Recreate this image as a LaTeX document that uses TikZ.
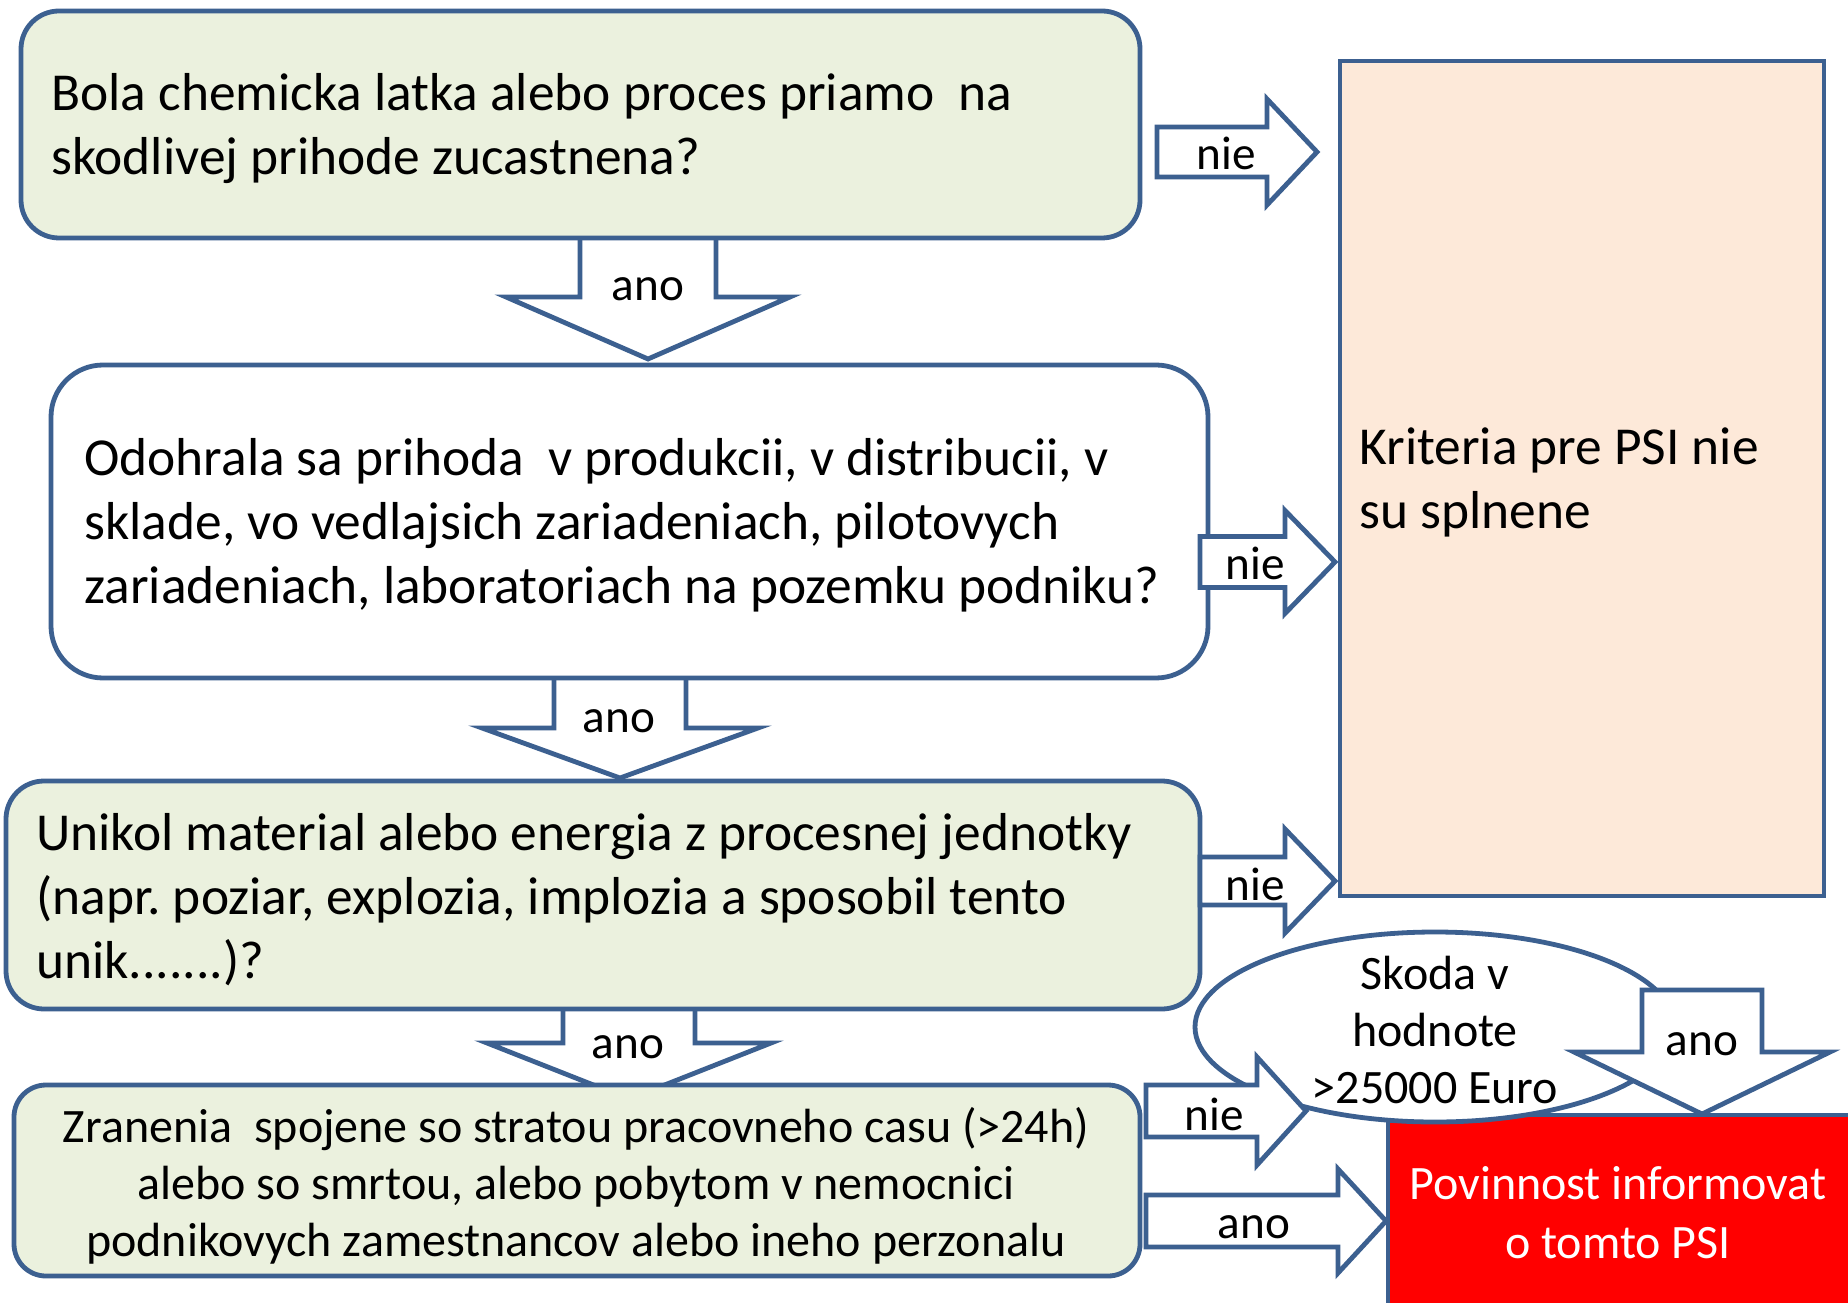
\documentclass[tikz,border=0pt]{standalone}
\usepackage{fontspec}
\setmainfont{Carlito}
\frenchspacing
\usetikzlibrary{shapes.geometric}
\definecolor{bordc}{RGB}{60,96,144}
\definecolor{greenf}{RGB}{235,241,222}
\definecolor{peachf}{RGB}{253,233,217}
\newcommand{\blkright}[6]{\path[blockarrow] ({#1},{#4-#5}) -- ({#2},{#4-#5}) -- ({#2},{#4-#6}) -- ({#3},{#4}) -- ({#2},{#4+#6}) -- ({#2},{#4+#5}) -- ({#1},{#4+#5}) -- cycle;}
\newcommand{\blkdown}[6]{\path[blockarrow] ({#1-#5},{#2}) -- ({#1+#5},{#2}) -- ({#1+#5},{#3}) -- ({#1+#6},{#3}) -- ({#1},{#4}) -- ({#1-#6},{#3}) -- ({#1-#5},{#3}) -- cycle;}
\tikzset{
  bord/.style={draw=bordc, line width=1.2pt},
  qbox/.style={bord, rectangle, inner sep=0pt},
  blockarrow/.style={bord, fill=white, line join=miter},
  lbl/.style={font=\fontsize{11.8}{13}\selectfont, inner sep=0pt},
  maintext/.style={font=\fontsize{13.35}{16}\selectfont, align=left, inner sep=0pt, anchor=west},
  smalltext/.style={font=\fontsize{12}{14.25}\selectfont, align=center, inner sep=0pt},
}
\begin{document}
\begin{tikzpicture}[x=0.25pt,y=-0.25pt]
\useasboundingbox (0,0) rectangle (1848,1303);
\fill[white] (0,0) rectangle (1848,1303);

% down block arrows (behind the boxes)
\blkdown{648}{230}{297}{359}{68}{142}
\blkdown{620}{670}{728}{778}{66}{138}
\blkdown{629}{1000}{1043}{1099}{66}{142}

% question boxes
\node[qbox, fill=greenf, rounded corners=9.5pt, minimum width=279.75pt, minimum height=56.75pt] (q1) at (580.5,124.5) {};
\node[maintext] (q1t) at ([xshift=8pt,yshift=-0.9pt]q1.west) {Bola chemicka latka alebo proces priamo~ na\\skodlivej prihode zucastnena?};

\node[qbox, fill=white, rounded corners=13pt, minimum width=289.25pt, minimum height=78.25pt] (q2) at (629.5,521.5) {};
\node[maintext] (q2t) at ([xshift=8.75pt,yshift=-0.9pt]q2.west) {Odohrala sa prihoda~ v produkcii, v distribucii, v\\sklade, vo vedlajsich zariadeniach, pilotovych\\zariadeniach, laboratoriach na pozemku podniku?};

\node[qbox, fill=greenf, rounded corners=9.5pt, minimum width=298.5pt, minimum height=57pt] (q3) at (603,895) {};
\node[maintext] (q3t) at ([xshift=8pt,yshift=-1.1pt]q3.west) {Unikol material alebo energia z procesnej jednotky\\(napr. poziar, explozia, implozia a sposobil tento\\unik.......)?};

\node[qbox, fill=greenf, rounded corners=8pt, minimum width=281.5pt, minimum height=47.75pt] (q4) at (577,1180.5) {};
\node[smalltext] (q4t) at (576,1186) {Zranenia~ spojene so stratou pracovneho casu (>24h)\\alebo so smrtou, alebo pobytom v nemocnici\\podnikovych zamestnancov alebo ineho perzonalu};

% result boxes
\node[qbox, fill=peachf, minimum width=121pt, minimum height=208.75pt] (krit) at (1582,478.5) {};
\node[maintext] (kritt) at ([xshift=5.25pt,yshift=-1.1pt]krit.west) {Kriteria pre PSI nie\\su splnene};

\node[qbox, fill=red, minimum width=120.5pt, minimum height=51.25pt] (povin) at (1629,1217.5) {};
\node[font=\fontsize{12}{14.75}\selectfont, align=center, inner sep=0pt, text=white] (povint) at (1618,1213) {Povinnost informovat\\o tomto PSI};

% right block arrows
\blkright{1157}{1267}{1317}{152}{25}{53}
\blkright{1200}{1285}{1335}{562}{25.5}{51.5}
\blkright{1200}{1285}{1335}{881}{24}{52}

% damage ellipse
\node[ellipse, bord, fill=white, minimum width=120pt, minimum height=47.5pt, inner sep=0pt] (skoda) at (1435,1027) {};
\node[smalltext] (skodat) at (1435,1030) {Skoda v\\hodnote\\>25000 Euro};

\blkdown{1702}{990}{1052}{1114}{60}{128}
\blkright{1146}{1257}{1306}{1111}{26}{54}
\blkright{1146}{1338}{1386}{1221}{26}{52}

% labels
\node[lbl] (l1) at (1226,153) {nie};
\node[lbl] (l2) at (1255,563) {nie};
\node[lbl] (l3) at (1255,884) {nie};
\node[lbl] (l4) at (1214,1114) {nie};
\node[lbl] (l5) at (648,289) {ano};
\node[lbl] (l6) at (619,721) {ano};
\node[lbl] (l7) at (628,1047) {ano};
\node[lbl] (l8) at (1702,1044) {ano};
\node[lbl] (l9) at (1254,1227) {ano};
\end{tikzpicture}
\end{document}
